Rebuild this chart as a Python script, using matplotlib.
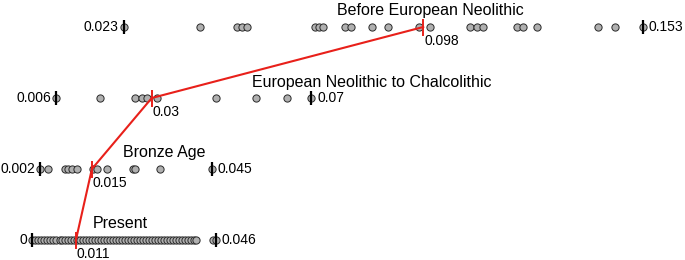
import matplotlib
matplotlib.use("Agg")
import matplotlib.pyplot as plt

plt.rcParams['font.family'] = ['Liberation Sans', 'DejaVu Sans']

periods = ["Present", "Bronze Age", "European Neolithic to Chalcolithic", "Before European Neolithic"]

present_vals = [0.000, 0.0007, 0.0015, 0.0023, 0.0030, 0.0037, 0.0046, 0.0053, 0.0060, 0.0069,
                0.0076, 0.0083, 0.0091, 0.0098, 0.0105, 0.0113, 0.0121, 0.0128, 0.0135, 0.0144,
                0.0151, 0.0158, 0.0166, 0.0173, 0.0181, 0.0189, 0.0196, 0.0203, 0.0211, 0.0219,
                0.0226, 0.0233, 0.0241, 0.0249, 0.0256, 0.0263, 0.0271, 0.0278, 0.0286, 0.0294,
                0.0301, 0.0308, 0.0316, 0.0324, 0.0331, 0.0338, 0.0346, 0.0353, 0.0361, 0.0369,
                0.0376, 0.0383, 0.0391, 0.0398, 0.0405, 0.0412, 0.0453, 0.046]
bronze_vals = [0.002, 0.0040, 0.0083, 0.0090, 0.0100, 0.0113, 0.0153, 0.0163, 0.0188,
               0.0253, 0.0258, 0.0321, 0.045]
neolithic_vals = [0.006, 0.0170, 0.0258, 0.0276, 0.0288, 0.0313, 0.0461, 0.0561, 0.0639, 0.07]
before_vals = [0.023, 0.0421, 0.0514, 0.0526, 0.0539, 0.0709, 0.0719, 0.0729, 0.0784, 0.0799,
               0.0852, 0.0892, 0.0969, 0.0997, 0.1097, 0.1115, 0.1130, 0.1215, 0.1230, 0.1265,
               0.1418, 0.1460, 0.153]

all_vals = [present_vals, bronze_vals, neolithic_vals, before_vals]
mins = [0, 0.002, 0.006, 0.023]
maxs = [0.046, 0.045, 0.07, 0.153]
min_labels = ["0", "0.002", "0.006", "0.023"]
max_labels = ["0.046", "0.045", "0.07", "0.153"]
means = [0.011, 0.015, 0.03, 0.098]
mean_labels = ["0.011", "0.015", "0.03", "0.098"]
title_x = [0.0153, 0.0228, 0.0551, 0.0764]

W, H = 685, 260
fig = plt.figure(figsize=(W / 100, H / 100), dpi=100)
ax = fig.add_axes([0, 0, 1, 1])
px_per_unit = 3992.0
x0px = 32.0
row_px = 71.0
ax.set_xlim(-x0px / px_per_unit, (W - x0px) / px_per_unit)
ax.set_ylim((240 - H) / row_px, 240 / row_px)
ax.axis('off')

tick_half = 7.0 / row_px
mean_half = 8.5 / row_px

for r, vals in enumerate(all_vals):
    ax.plot(vals, [r] * len(vals), 'o', ms=5.2, mfc='#b0b0b0', mec='#2a2a2a', mew=0.7,
            ls='none', zorder=3)
    for v in (mins[r], maxs[r]):
        ax.plot([v, v], [r - tick_half, r + tick_half], color='black', lw=1.6, zorder=4,
                solid_capstyle='butt')
    ax.annotate(min_labels[r], (mins[r], r), xytext=(-5, 0), textcoords='offset pixels',
                ha='right', va='center', fontsize=10)
    ax.annotate(max_labels[r], (maxs[r], r), xytext=(6, 0), textcoords='offset pixels',
                ha='left', va='center', fontsize=10)
    ax.plot([means[r], means[r]], [r - mean_half, r + mean_half], color='#e8201a', lw=1.4,
            zorder=5, solid_capstyle='butt')
    ax.annotate(mean_labels[r], (means[r], r), xytext=(1, -14), textcoords='offset pixels',
                ha='left', va='center', fontsize=10)
    ax.annotate(periods[r], (title_x[r], r), xytext=(0, 16), textcoords='offset pixels',
                ha='left', va='center', fontsize=11.5)

ax.plot(means, list(range(len(means))), color='#e8201a', lw=1.5, zorder=5)

fig.savefig("out.png", dpi=100)
